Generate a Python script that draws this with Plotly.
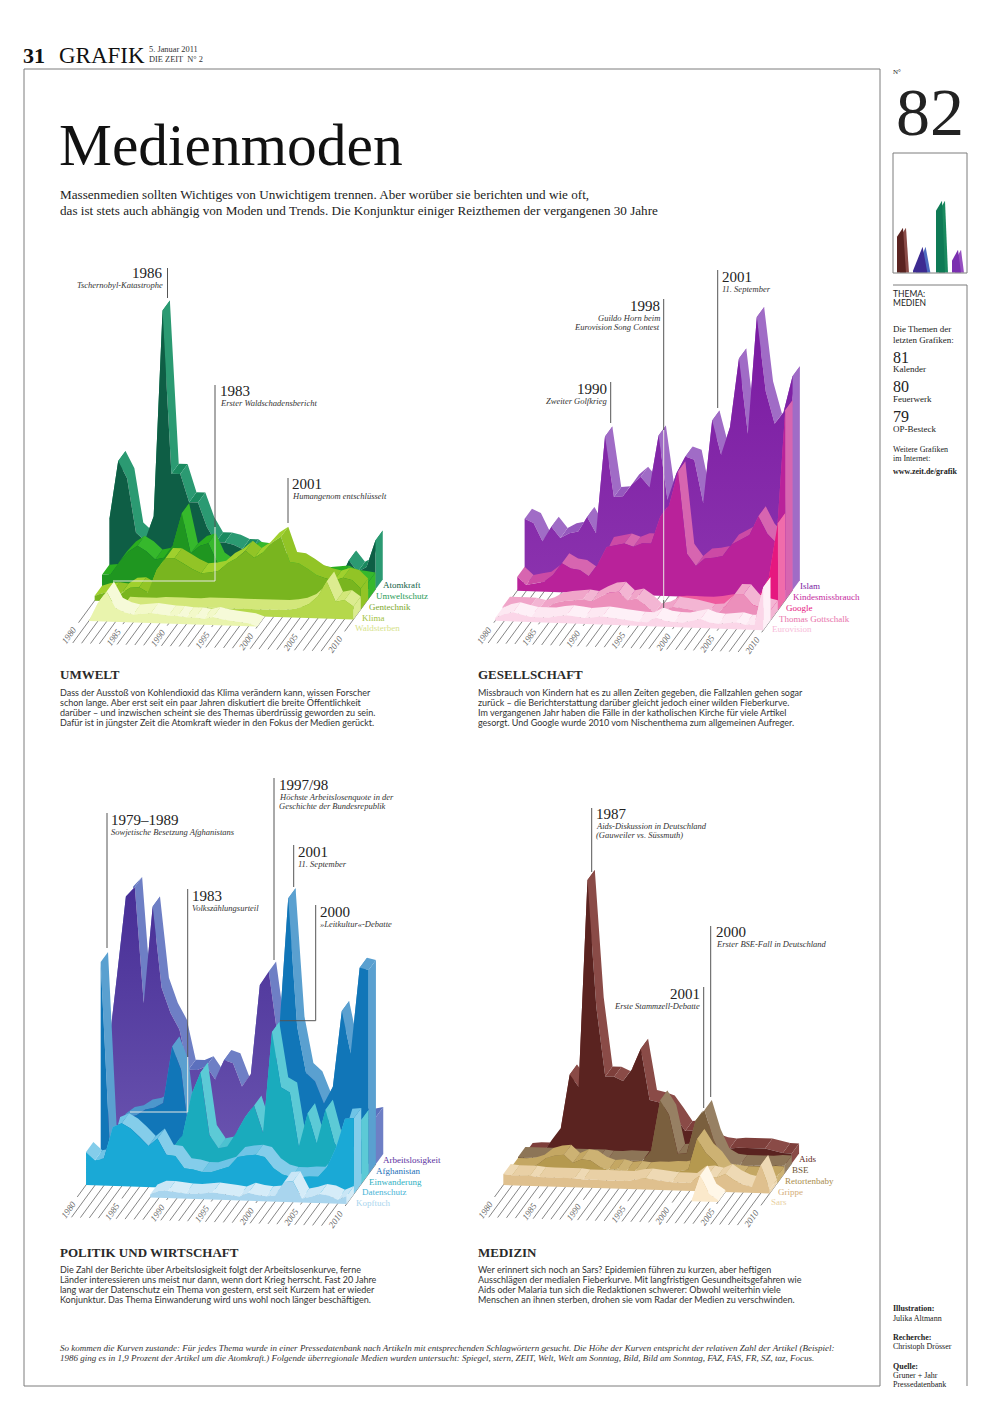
import plotly.graph_objects as go

W, H = 991, 1420
SERIF = "Liberation Serif"
SANS = "Lato"
N = None

years = list(range(1980, 2011))
tick_years = [1980, 1985, 1990, 1995, 2000, 2005, 2010]

# Heights of the curves (1 unit = 1 page pixel)
atomkraft = [61,120,103,49,41,66,272,109,109,81,81,57,42,42,40,36,36,29,24,20,16,15,14,11,8,6,9,28,17,22,49]
umweltschutz = [16,17,30,40,46,41,33,35,48,80,40,48,51,32,26,29,38,44,43,36,33,30,26,25,22,21,22,23,19,18,17]
gentechnik = [5,8,9,8,14,15,10,33,45,45,40,35,31,32,34,42,47,55,48,54,64,70,45,44,39,33,30,28,31,29,21]
klima = [N,N,N,N,5,5,5,5,6,6,6,6,6,7,7,7,7,7,7,7,7,7,7,8,10,14,22,37,17,19,13]
waldsterben = [N,0,18,30,14,10,8,9,10,9,8,8,7,7,6,8,6,5,4,3,0,N,N,N,N,N,N,N,N,N,N]

islam = [62,58,40,55,44,49,51,66,50,147,87,88,100,108,98,150,86,113,130,127,84,167,133,161,230,155,272,198,166,178,214]
kindesmissbrauch = [14,6,8,10,17,29,24,23,17,29,47,49,51,48,52,52,79,91,125,43,31,39,40,42,54,59,64,83,66,57,190]
google = [N,N,N,N,N,N,N,N,N,N,N,N,N,N,N,N,N,N,0,1,1,1,1,2,4,5,4,4,15,33,87]
gottschalk = [4,4,4,4,2,5,10,12,13,14,13,18,22,23,15,17,11,3,5,10,9,8,6,4,5,13,25,25,15,12,10]
eurovision = [3,7,9,7,5,5,5,7,8,7,6,7,8,7,6,5,4,4,9,6,5,5,7,9,6,5,6,7,5,5,43]

arbeitslosigkeit = [102,179,259,269,153,250,169,144,128,88,88,92,79,99,96,73,86,175,189,124,91,80,75,65,60,55,50,48,45,45,47]
afghanistan = [203,22,42,49,51,57,59,64,121,98,25,22,20,20,19,18,18,20,22,30,141,273,145,99,91,69,86,162,120,206,204]
einwanderung = [N,N,N,N,N,N,N,N,12,31,43,84,106,44,31,33,47,63,75,48,149,94,89,35,69,39,73,40,27,26,64]
datenschutz = [33,25,27,59,63,58,50,41,49,33,32,20,19,17,17,20,23,33,35,36,34,23,17,15,15,16,16,26,46,75,76]
kopftuch = [N,N,N,N,N,N,N,N,3,7,7,6,5,5,6,7,6,5,4,8,6,5,6,20,21,4,6,9,8,4,8]

aids = [2,3,3,16,28,82,70,277,150,81,81,77,89,110,59,57,54,42,29,30,26,17,14,13,14,14,14,14,12,10,10]
bse = [8,8,8,8,8,8,8,8,8,8,7,7,8,8,8,19,69,55,16,17,50,61,32,13,8,7,7,7,7,8,8]
retortenbaby = [7,7,8,11,18,21,22,14,18,17,11,8,9,7,8,7,8,8,9,9,11,42,28,20,8,7,6,6,6,7,7]
grippe = [11,10,10,10,9,9,9,9,9,8,8,8,8,8,8,10,11,10,9,8,8,8,15,16,14,18,12,8,6,28,4]
sars = [N,N,N,N,N,N,N,N,N,N,N,N,N,N,N,N,N,N,N,N,N,N,0,26,8,2,N,N,N,N,N]

thumb_steps = [0, 6, 9]
thumb_aids = [36, 45, 0]
thumb_arbeit = [2, 26, 0]
thumb_atom = [62, 72, 0]
thumb_islam = [12, 23, 0]

LX, LY = 7.33, -10.0

panels = [
    dict(box=(40, 260, 440, 660), origin=(80.0, 620.7), step=(8.87, 0.29), series=[
        ("Waldsterben", waldsterben, "#e9f4ad", "#f3f9c9", "#f6fad8", "#d6e28a"),
        ("Klima", klima, "#b5d84b", "#d3e77a", "#dcec90", "#a3c23f"),
        ("Gentechnik", gentechnik, "#79b51f", "#a0d02d", "#92c426", "#7ca82c"),
        ("Umweltschutz", umweltschutz, "#1f9620", "#2aae1f", "#36b82c", "#1f9a55"),
        ("Atomkraft", atomkraft, "#0e5e45", "#1a8a5f", "#2b9a72", "#0e5e45"),
    ]),
    dict(box=(470, 260, 870, 660), origin=(495.3, 620.7), step=(8.93, 0.32), series=[
        ("Eurovision", eurovision, "#fbd6e8", "#fde8f2", "#fef0f7", "#f7bcd9"),
        ("Thomas Gottschalk", gottschalk, "#ec8fbb", "#f0a5c9", "#f3b5d3", "#e873ab"),
        ("Google", google, "#e6187f", "#ee5a9e", "#f06cab", "#e6187f"),
        ("Kindesmissbrauch", kindesmissbrauch, "#b9229a", "#cc4aa5", "#d765b0", "#c52aa0"),
        ("Islam", islam, ("#7a1aa2", "#8b33ae"), "#9558bd", "#a06cc6", "#7a1aa2"),
    ]),
    dict(box=(40, 770, 450, 1230), origin=(78.7, 1195.0), step=(8.93, 0.30), series=[
        ("Kopftuch", kopftuch, "#a9d5ee", "#c9e6f6", "#d5ecf8", "#a9d5ee"),
        ("Datenschutz", datenschutz, "#1aa9d6", "#6fc4e6", "#84cdea", "#48b4d6"),
        ("Einwanderung", einwanderung, "#1aabbd", "#4cc2d0", "#5ccad6", "#2fb0c2"),
        ("Afghanistan", afghanistan, "#1176b8", "#4d97cc", "#5aa0d0", "#1a6fb8"),
        ("Arbeitslosigkeit", arbeitslosigkeit, ("#472e96", "#6b55b0"), "#5c70bd", "#6e7fc5", "#5a2f9e"),
    ]),
    dict(box=(460, 800, 860, 1230), origin=(496.0, 1195.0), step=(8.88, 0.28), series=[
        ("Sars", sars, "#fbe9cb", "#fef3df", "#fff7e8", "#e8cf9f"),
        ("Grippe", grippe, "#dfc08e", "#e9d0a5", "#eed9b4", "#d4ae78"),
        ("Retortenbaby", retortenbaby, "#b5994f", "#c4a763", "#cdb273", "#a98c4c"),
        ("BSE", bse, "#7a5f3e", "#8d7557", "#978063", "#6d5537"),
        ("Aids", aids, "#5a2320", "#7e3f3b", "#8a4b47", "#5a2320"),
    ]),
]

fig = go.Figure()
anns, shapes = [], []


def px(x):
    return x / W


def py(y):
    return 1 - y / H


def text(x, y, s, size=9, color="#222", anchor="left", family=SERIF, angle=0, xref="paper", yref="paper"):
    if xref == "paper":
        x, y = px(x), py(y)
    anns.append(dict(x=x, y=y, xref=xref, yref=yref, text=s, showarrow=False,
                     font=dict(size=size, color=color, family=family), xanchor=anchor,
                     yanchor="middle", textangle=angle, borderpad=0, borderwidth=0))


def line(x0, y0, x1, y1, color="#5a5a5a", width=1):
    shapes.append(dict(type="line", xref="paper", yref="paper", x0=px(x0), x1=px(x1), y0=py(y0), y1=py(y1),
                       line=dict(color=color, width=width)))


def add_poly(xs, ys, color, xa, ya):
    kw = dict(fillcolor=color)
    if isinstance(color, tuple):
        kw = dict(fillgradient=dict(type="vertical", colorscale=[[0, color[1]], [1, color[0]]]))
    fig.add_trace(go.Scatter(x=xs, y=ys, mode="lines", fill="toself", line=dict(width=0), hoverinfo="skip",
                             showlegend=False, xaxis=xa, yaxis=ya, **kw))


for n, p in enumerate(panels, start=1):
    xa, ya = f"x{n}", f"y{n}"
    bx0, by0, bx1, by1 = p["box"]
    ox, oy = p["origin"]
    sx, tilt = p["step"]
    lay_x = dict(domain=[px(bx0), px(bx1)], range=[1980 - (ox - bx0) / sx, 1980 + (bx1 - ox) / sx],
                 visible=False, fixedrange=True)
    lay_y = dict(domain=[py(by1), py(by0)], range=[-(by1 - oy), oy - by0], visible=False, fixedrange=True)
    fig.update_layout({f"xaxis{n}": lay_x, f"yaxis{n}": lay_y})

    def X(yr, layer):
        return yr + layer * LX / sx

    def Y(yr, layer, h=0.0):
        return h - layer * LY - (yr - 1980) * tilt

    # hatched floor
    hx, hy = [], []
    for yr in years:
        low = -0.2 if yr in tick_years else -2.2
        hx += [X(yr, 4), X(yr, low), None]
        hy += [Y(yr, 4), Y(yr, low), None]
    fig.add_trace(go.Scatter(x=hx, y=hy, mode="lines", line=dict(color="#858585", width=1), hoverinfo="skip",
                             showlegend=False, xaxis=xa, yaxis=ya))
    for yr in tick_years:
        text(X(yr, -1.45), Y(yr, -1.45), f"<i>{yr}</i>", size=9, color="#666", anchor="center", angle=-55,
             xref=xa, yref=ya)

    # curves, rearmost first
    for layer in range(4, -1, -1):
        name, vals, face, rib_up, rib_dn, lab = p["series"][layer]
        pts = [(y, v) for y, v in zip(years, vals) if v is not None]
        for tone, keep in ((rib_up, lambda a, b: b >= a), (rib_dn, lambda a, b: b < a)):
            qx, qy = [], []
            for (y0, v0), (y1, v1) in zip(pts, pts[1:]):
                if keep(v0, v1):
                    qx += [X(y0, layer), X(y1, layer), X(y1, layer + 1), X(y0, layer + 1), X(y0, layer), None]
                    qy += [Y(y0, layer, v0), Y(y1, layer, v1), Y(y1, layer + 1, v1), Y(y0, layer + 1, v0),
                           Y(y0, layer, v0), None]
            if qx:
                add_poly(qx, qy, tone, xa, ya)
        ye, ve = pts[-1]
        add_poly([X(ye, layer), X(ye, layer + 1), X(ye, layer + 1), X(ye, layer)],
                 [Y(ye, layer, ve), Y(ye, layer + 1, ve), Y(ye, layer + 1), Y(ye, layer)], rib_dn, xa, ya)
        fx = [X(pts[0][0], layer)] + [X(y, layer) for y, _ in pts] + [X(ye, layer)]
        fy = [Y(pts[0][0], layer)] + [Y(y, layer, v) for y, v in pts] + [Y(ye, layer)]
        add_poly(fx, fy, face, xa, ya)
        text(X(2010, layer + 1) + 0.4 - (2 + 0.4 * layer) / sx, Y(2010, layer + 1) + 2 - (11 - 0.75 * layer),
             name, size=9, color=lab, xref=xa, yref=ya)

# thumbnail
fig.update_layout(xaxis5=dict(domain=[px(893), px(967)], range=[893, 967], visible=False, fixedrange=True),
                  yaxis5=dict(domain=[py(272.7), py(153)], range=[0, 119.7], visible=False, fixedrange=True))
for start, vals, dark, light in ((897, thumb_aids, "#5a2320", "#8a4b47"), (913, thumb_arbeit, "#3d2a91", "#4d6bc0"),
                                 (936, thumb_atom, "#0e7a55", "#1a8a5f"), (952, thumb_islam, "#7a2fb0", "#9650c0")):
    scale = 1.6 if vals is thumb_arbeit else 1.0
    xs = [start + s * scale for s in thumb_steps]
    add_poly([xs[0] + 3] + [x + 3 for x in xs] + [xs[-1] + 3], [0] + vals + [0], light, "x5", "y5")
    add_poly([xs[0]] + xs + [xs[-1]], [0] + vals + [0], dark, "x5", "y5")

# frames
FR = "#7d7d7d"
for a in [(24, 69, 880, 69), (24, 69, 24, 1386), (880, 69, 880, 1386), (24, 1386, 880, 1386),
          (893, 153, 967, 153), (893, 273, 967, 273), (893, 153, 893, 273), (967, 153, 967, 273),
          (893, 285, 967, 285), (967, 285, 967, 1386)]:
    line(*a, color=FR, width=1)

# leaders
DK = "#555555"
PALE = "#e8e8e2"
for a in [(167.5, 268, 167.5, 298), (215, 385, 215, 527), (288, 478, 288, 523),
          (717.7, 270, 717.7, 408), (663.7, 299, 663.7, 430), (663.7, 600, 663.7, 608), (610.7, 382, 610.7, 423),
          (107, 813, 107, 948), (274, 778, 274, 960), (293.7, 845, 293.7, 887),
          (315.7, 905, 315.7, 1020.7), (315.7, 1020.7, 280, 1020.7), (187.7, 889, 187.7, 1057),
          (591.7, 808, 591.7, 872), (710.7, 926, 710.7, 1097), (703.7, 987, 703.7, 1108)]:
    line(*a, color=DK)
for a in [(215, 527, 215, 581), (215, 581, 113, 581), (663.7, 430, 663.7, 600),
          (187.7, 1057, 187.7, 1112), (187.7, 1112, 130, 1112)]:
    line(*a, color=PALE)

# head
text(23, 56, "<b>31</b>", 22, "#111")
text(59, 56, "GRAFIK", 23, "#111")
text(149, 50, "5. Januar 2011", 8.4, "#333")
text(149, 60, "DIE ZEIT  N° 2", 8.4, "#333")
text(59, 145, "Medienmoden", 59.5, "#111")
text(60, 194, "Massenmedien sollten Wichtiges von Unwichtigem trennen. Aber worüber sie berichten und wie oft,", 13.15, "#222")
text(60, 210, "das ist stets auch abhängig von Moden und Trends. Die Konjunktur einiger Reizthemen der vergangenen 30 Jahre", 13.15, "#222")

# event notes: x, y, year, anchor, sub lines
notes = [
    (163, 273, "1986", "right", ["Tschernobyl-Katastrophe"]),
    (220, 391, "1983", "left", ["Erster Waldschadensbericht"]),
    (292, 484, "2001", "left", ["Humangenom entschlüsselt"]),
    (722, 277, "2001", "left", ["11. September"]),
    (660, 306, "1998", "right", ["Guildo Horn beim", "Eurovision Song Contest"]),
    (607, 389, "1990", "right", ["Zweiter Golfkrieg"]),
    (111, 820, "1979–1989", "left", ["Sowjetische Besetzung Afghanistans"]),
    (279, 785, "1997/98", "left", ["Höchste Arbeitslosenquote in der", "Geschichte der Bundesrepublik"]),
    (298, 852, "2001", "left", ["11. September"]),
    (320, 912, "2000", "left", ["»Leitkultur«-Debatte"]),
    (192, 896, "1983", "left", ["Volkszählungsurteil"]),
    (596, 814, "1987", "left", ["Aids-Diskussion in Deutschland", "(Gauweiler vs. Süssmuth)"]),
    (716, 932, "2000", "left", ["Erster BSE-Fall in Deutschland"]),
    (700, 994, "2001", "right", ["Erste Stammzell-Debatte"]),
]
for x, y, yr, anc, subs in notes:
    text(x, y, yr, 15, "#222", anc)
    for k, s in enumerate(subs):
        text(x, y + 12 + 9 * k, f"<i>{s}</i>", 8.5, "#333", anc)

# sections
sections = [
    (60, 675, "UMWELT", ["Dass der Ausstoß von Kohlendioxid das Klima verändern kann, wissen Forscher",
                         "schon lange. Aber erst seit ein paar Jahren diskutiert die breite Öffentlichkeit",
                         "darüber – und inzwischen scheint sie des Themas überdrüssig geworden zu sein.",
                         "Dafür ist in jüngster Zeit die Atomkraft wieder in den Fokus der Medien gerückt."]),
    (478, 675, "GESELLSCHAFT", ["Missbrauch von Kindern hat es zu allen Zeiten gegeben, die Fallzahlen gehen sogar",
                                "zurück – die Berichterstattung darüber gleicht jedoch einer wilden Fieberkurve.",
                                "Im vergangenen Jahr haben die Fälle in der katholischen Kirche für viele Artikel",
                                "gesorgt. Und Google wurde 2010 vom Nischenthema zum allgemeinen Aufreger."]),
    (60, 1252, "POLITIK UND WIRTSCHAFT", ["Die Zahl der Berichte über Arbeitslosigkeit folgt der Arbeitslosenkurve, ferne",
                                          "Länder interessieren uns meist nur dann, wenn dort Krieg herrscht. Fast 20 Jahre",
                                          "lang war der Datenschutz ein Thema von gestern, erst seit Kurzem hat er wieder",
                                          "Konjunktur. Das Thema Einwanderung wird uns wohl noch länger beschäftigen."]),
    (478, 1252, "MEDIZIN", ["Wer erinnert sich noch an Sars? Epidemien führen zu kurzen, aber heftigen",
                            "Ausschlägen der medialen Fieberkurve. Mit langfristigen Gesundheitsgefahren wie",
                            "Aids oder Malaria tun sich die Redaktionen schwerer: Obwohl weiterhin viele",
                            "Menschen an ihnen sterben, drohen sie vom Radar der Medien zu verschwinden."]),
]
for x, y, head, body in sections:
    text(x, y, f"<b>{head}</b>", 13, "#2a2a2a")
    for k, s in enumerate(body):
        text(x, y + 17 + 10.2 * k, s, 9.0, "#333", family=SANS)

text(60, 1348, "<i>So kommen die Kurven zustande: Für jedes Thema wurde in einer Pressedatenbank nach Artikeln mit entsprechenden Schlagwörtern gesucht. Die Höhe der Kurven entspricht der relativen Zahl der Artikel (Beispiel:</i>", 9, "#333")
text(60, 1358, "<i>1986 ging es in 1,9 Prozent der Artikel um die Atomkraft.) Folgende überregionale Medien wurden untersucht: Spiegel, stern, ZEIT, Welt, Welt am Sonntag, Bild, Bild am Sonntag, FAZ, FAS, FR, SZ, taz, Focus.</i>", 9, "#333")

# sidebar
side = [
    (72, "N°", 7, SERIF), (112, "82", 68, SERIF),
    (294, "THEMA:", 8.5, SANS), (303, "MEDIEN", 8.5, SANS),
    (329, "Die Themen der", 9, SERIF), (340, "letzten Grafiken:", 9, SERIF),
    (357, "81", 16, SERIF), (369, "Kalender", 9, SERIF),
    (387, "80", 16, SERIF), (399, "Feuerwerk", 9, SERIF),
    (417, "79", 16, SERIF), (429, "OP-Besteck", 9, SERIF),
    (449, "Weitere Grafiken", 8, SERIF), (458, "im Internet:", 8, SERIF),
    (471, "<b>www.zeit.de/grafik</b>", 8, SERIF),
    (1308, "<b>Illustration:</b>", 8, SERIF), (1318, "Julika Altmann", 8, SERIF),
    (1337, "<b>Recherche:</b>", 8, SERIF), (1346, "Christoph Drösser", 8, SERIF),
    (1366, "<b>Quelle:</b>", 8, SERIF), (1375, "Gruner + Jahr", 8, SERIF), (1384, "Pressedatenbank", 8, SERIF),
]
for y, s, size, fam in side:
    text(893 if s != "82" else 896, y, s, size, "#222", family=fam)

fig.update_layout(width=W, height=H, autosize=False, margin=dict(l=0, r=0, t=0, b=0), paper_bgcolor="white",
                  plot_bgcolor="rgba(0,0,0,0)", showlegend=False, annotations=anns, shapes=shapes)
fig.write_html("out.html", config=dict(displayModeBar=False),
               post_script="document.body.style.margin='0';document.documentElement.style.overflow='hidden';")
